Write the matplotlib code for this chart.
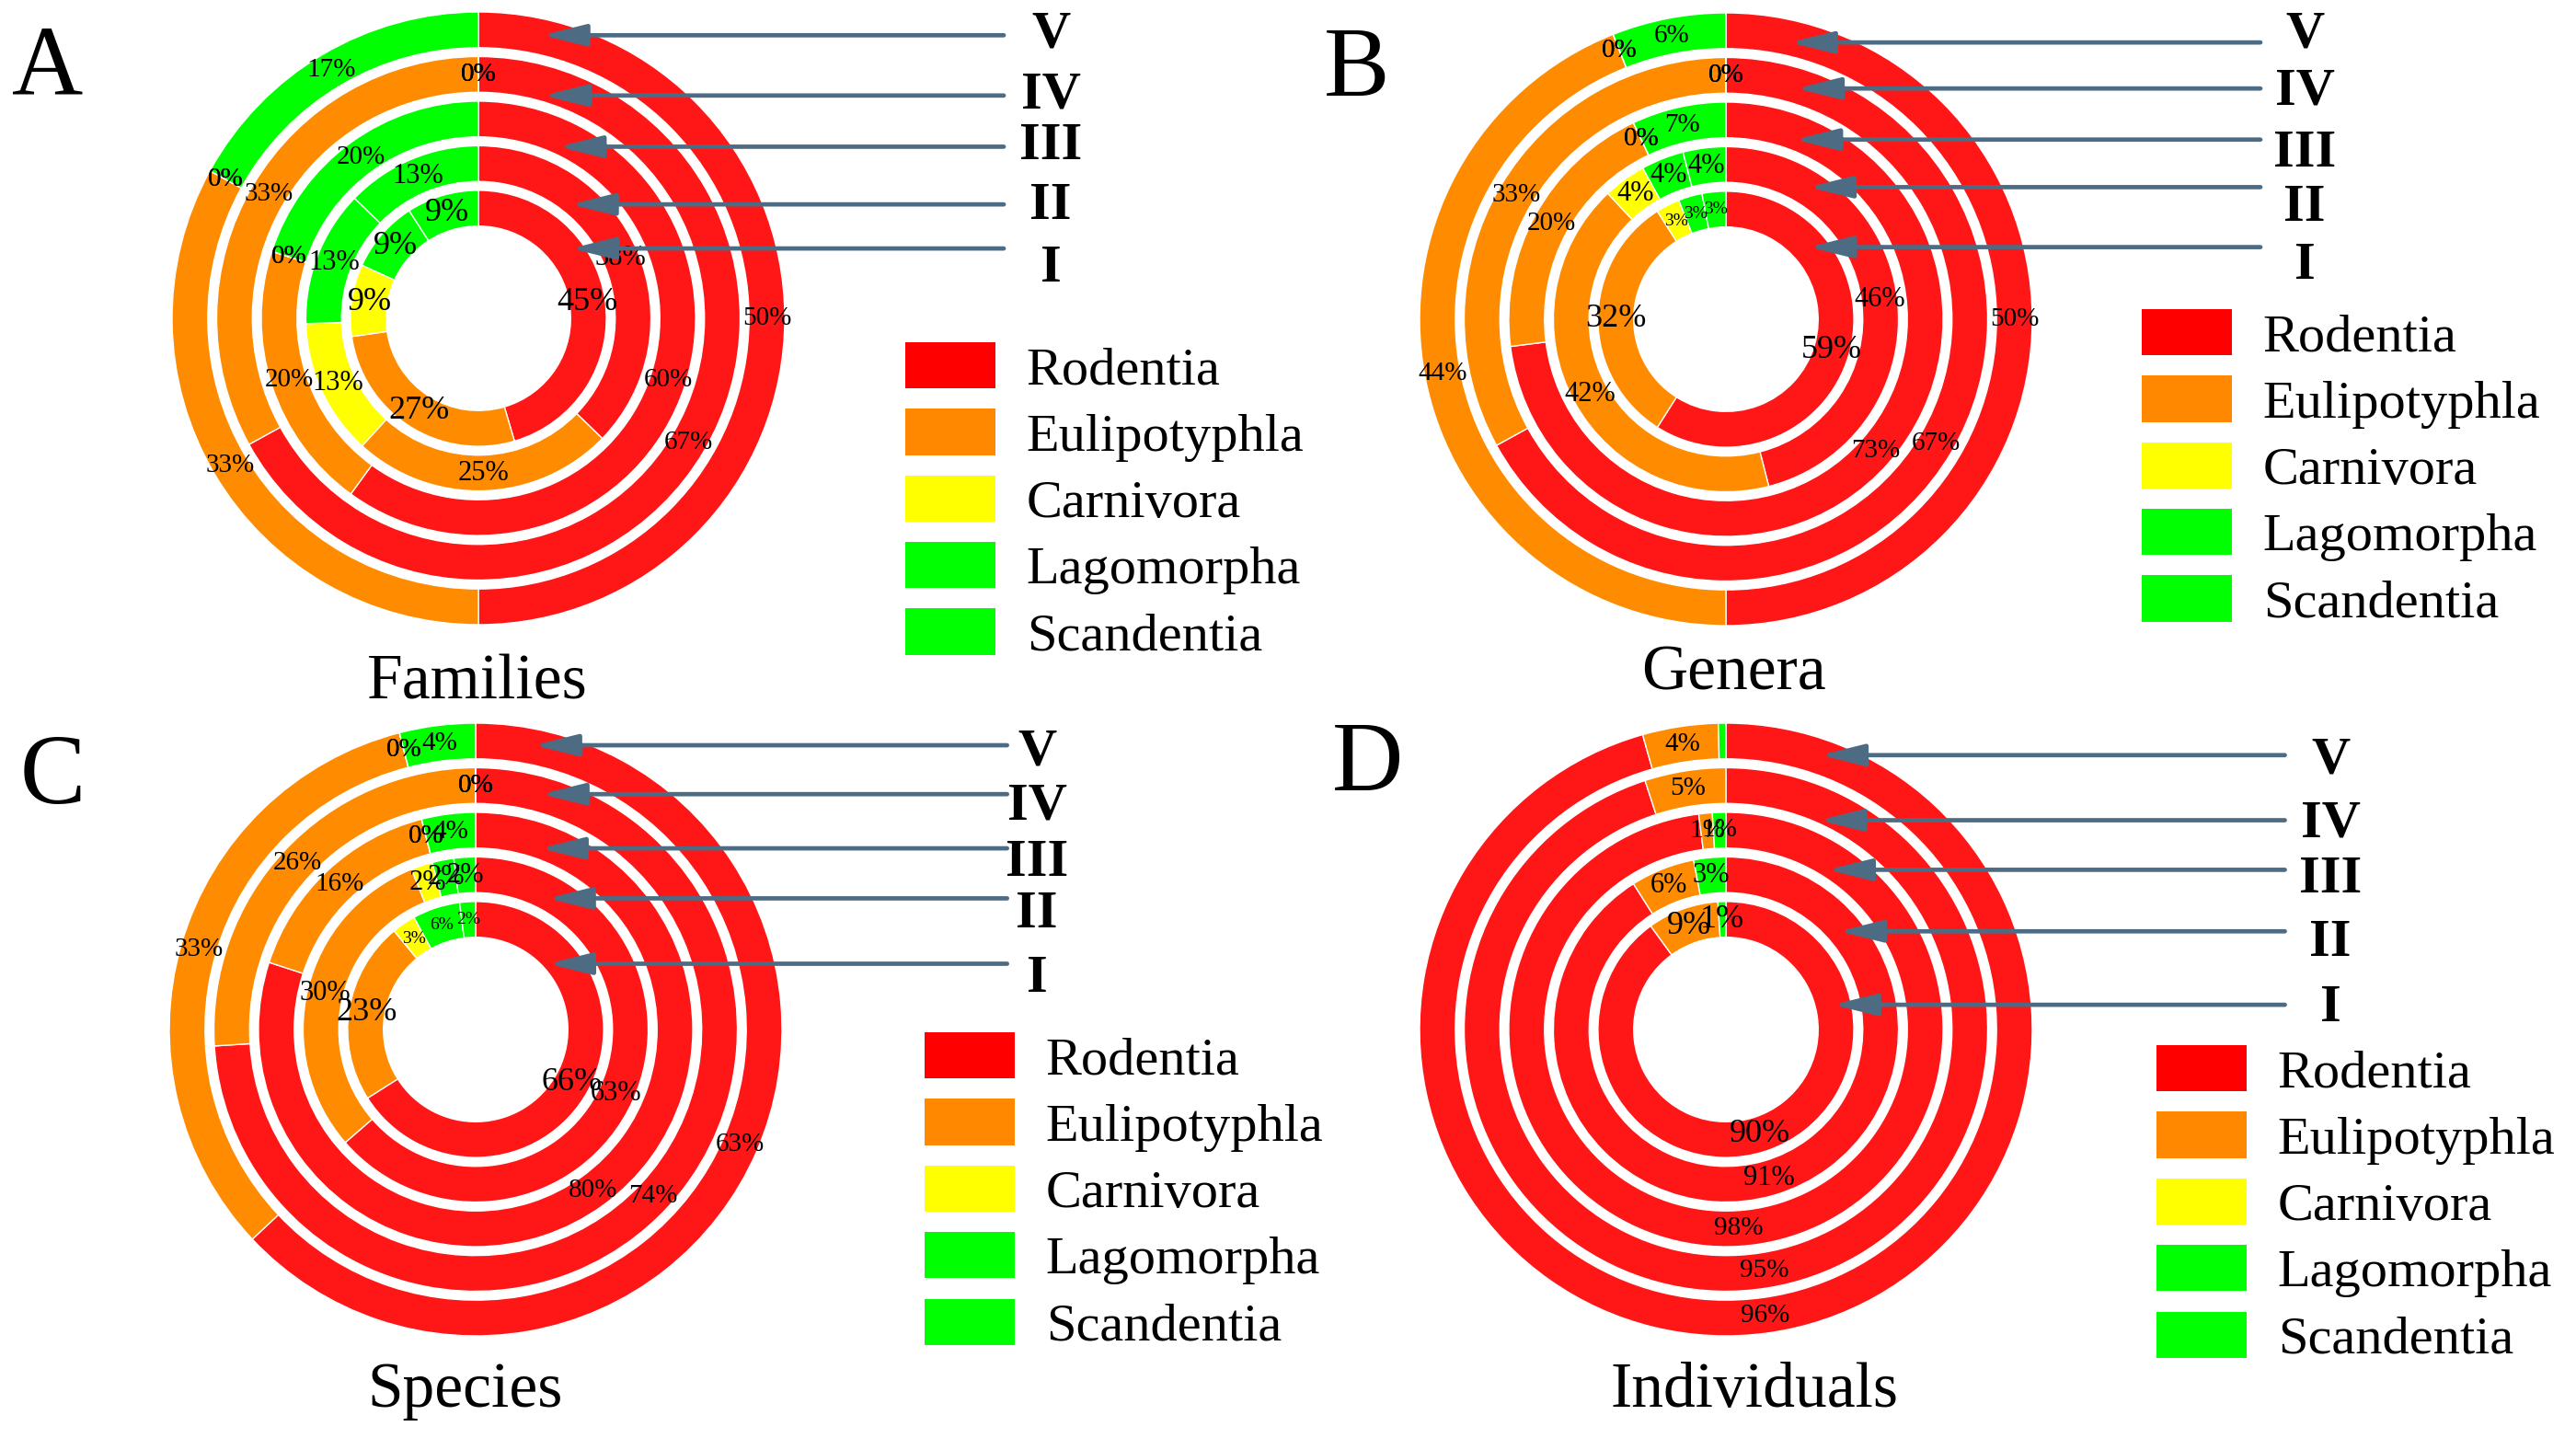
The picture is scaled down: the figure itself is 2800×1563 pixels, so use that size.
import numpy as np
import matplotlib
matplotlib.use('Agg')
import matplotlib.pyplot as plt
from matplotlib.patches import Patch

plt.rcParams['font.family'] = 'serif'
plt.rcParams['font.serif'] = ['Liberation Serif', 'Times New Roman', 'DejaVu Serif']

# orders, clockwise from 12 o'clock
orders = ['Rodentia', 'Eulipotyphla', 'Carnivora', 'Lagomorpha', 'Scandentia']
ring_names = ['I', 'II', 'III', 'IV', 'V']

# percentages per ring, ring I (inner) -> ring V (outer); None = not present
families = [
    [45, 27, 9, 9, 9],
    [38, 25, 13, 13, 13],
    [60, 20, 0, 0, 20],
    [67, 33, 0, 0, 0],
    [50, 33, 0, 0, 17],
]
genera = [
    [59, 32, 3, 3, 3],
    [46, 42, 4, 4, 4],
    [73, 20, 0, 0, 7],
    [67, 33, 0, 0, 0],
    [50, 44, 0, 0, 6],
]
species = [
    [66, 23, 3, 6, 2],
    [63, 30, 2, 2, 2],
    [80, 16, 0, 0, 4],
    [74, 26, 0, 0, 0],
    [63, 33, 0, 0, 4],
]
individuals = [
    [90, 9, None, None, 1],
    [91, 6, None, 3, None],
    [98, 1, None, 1, None],
    [95, 5, None, None, None],
    [96, 4, None, None, 0.4],
]

pie_colors = ['#ff1717', '#ff8c00', '#ffff00', '#00ff00', '#00ff00']
legend_colors = ['#ff0000', '#ff8800', '#ffff00', '#00ff00', '#00ff00']
arrow_color = '#4e6b84'

W, H = 2800, 1563
R = 332          # outer radius in pixels
RING_W = 0.117   # ring width (fraction of outer radius)

fig = plt.figure(figsize=(W / 100, H / 100), dpi=100)


def fx(px):
    return px / W


def fy(py):
    return 1 - py / H


def draw_panel(letter, title, rings, center, legend_xy, letter_xy, title_xy,
               tip_angles, tip_radii, tail_x, label_x, label_y):
    cx, cy = center
    ax = fig.add_axes([fx(cx - R), fy(cy + R), 2 * R / W, 2 * R / H])

    for k, vals in enumerate(rings):
        keep = [i for i, v in enumerate(vals) if v is not None]
        v = [vals[i] for i in keep]
        cols = [pie_colors[i] for i in keep]
        outer = 0.419 + 0.146 * k
        wedges, _ = ax.pie(v, radius=outer, startangle=90, counterclock=False,
                           colors=cols,
                           wedgeprops=dict(width=RING_W, edgecolor='white', linewidth=1))
        rmid = outer - RING_W / 2
        tiny = [x for x in v if 0 < x < 7]
        for w, x in zip(wedges, v):
            if 0 < x < 0.5:
                continue
            ang = np.deg2rad((w.theta1 + w.theta2) / 2)
            if k == 0:
                fs = 14 if (len(tiny) >= 2 and 0 < x < 7) else 26
            elif k == 1:
                fs = 22
            else:
                fs = 21
            ax.text(rmid * np.cos(ang), rmid * np.sin(ang), f'{x:.0f}%',
                    ha='center', va='center', fontsize=fs)

    # arrows pointing at each ring (I..V), with the ring numeral on the right
    for k in range(5):
        a = np.deg2rad(tip_angles[k])
        x, y = tip_radii[k] * np.sin(a), tip_radii[k] * np.cos(a)
        ax.annotate('', xy=(x, y), xytext=(tail_x, y),
                    arrowprops=dict(arrowstyle='-|>,head_length=2.9,head_width=0.72',
                                    color=arrow_color, lw=3.4, shrinkA=0, shrinkB=0),
                    annotation_clip=False)
        fig.text(fx(label_x), fy(label_y[k] + 19), ring_names[k], fontsize=42,
                 fontweight='bold', ha='center', va='baseline')

    ax.set_xlim(-1, 1)
    ax.set_ylim(-1, 1)
    ax.axis('off')

    handles = [Patch(facecolor=c, edgecolor='none') for c in legend_colors]
    fig.legend(handles, orders, loc='upper left',
               bbox_to_anchor=(fx(legend_xy[0]), fy(legend_xy[1])),
               frameon=False, fontsize=42, handlelength=1.68, handleheight=0.95,
               handletextpad=0.58, labelspacing=0.26, borderpad=0, borderaxespad=0)

    fig.text(fx(letter_xy[0]), fy(letter_xy[1]), letter, fontsize=77,
             ha='center', va='baseline')
    fig.text(fx(title_xy[0]), fy(title_xy[1]), title, fontsize=50,
             ha='center', va='baseline')


draw_panel('A', 'Families', families, (520, 346), (984, 372), (52, 102), (519, 760),
           [53, 39, 25, 16.3, 12.7], [0.38, 0.48, 0.62, 0.76, 0.95], 1.72, 1142,
           [287, 219, 154, 99, 32])
draw_panel('B', 'Genera', genera, (1876, 347), (2328, 336), (1475, 104), (1884, 750),
           [49, 32, 21, 17, 13], [0.36, 0.51, 0.63, 0.79, 0.93], 1.75, 2505,
           [284, 221, 162, 95, 32])
draw_panel('C', 'Species', species, (517, 1119), (1005, 1122), (57, 873), (506, 1529),
           [47.7, 28.8, 19.7, 15.6, 11.6], [0.32, 0.49, 0.63, 0.80, 0.95], 1.74, 1127,
           [1059, 989, 933, 872, 813])
draw_panel('D', 'Individuals', individuals, (1876, 1119), (2344, 1136), (1487, 859), (1907, 1529),
           [77, 49, 32.5, 24, 19], [0.36, 0.49, 0.62, 0.75, 0.95], 1.83, 2533,
           [1091, 1020, 951, 890, 822])

fig.savefig('out.png', dpi=100, facecolor='white')
